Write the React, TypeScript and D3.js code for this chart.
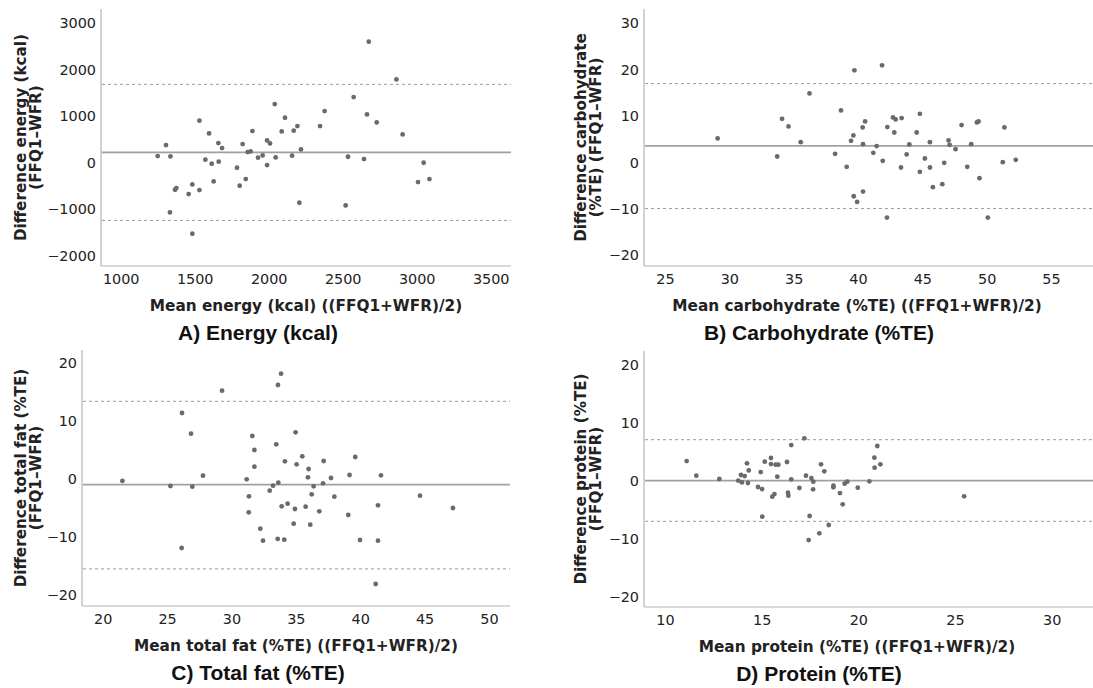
import React, { useRef, useEffect } from 'react';
import * as d3 from 'd3';

// A) energy (kcal)
const energyMean = [1250, 1306, 1336, 1333, 1367, 1376, 1459, 1484, 1484, 1532, 1532, 1572, 1597, 1615, 1628, 1660, 1662, 1685, 1786, 1804, 1824, 1845, 1858, 1878, 1890, 1928, 1959, 1989, 1989, 2009, 2041, 2047, 2088, 2110, 2158, 2169, 2194, 2207, 2218, 2347, 2378, 2520, 2536, 2574, 2644, 2664, 2676, 2730, 2863, 2905, 3009, 3047, 3086];
const energyDiff = [143, 380, 136, -1069, -581, -545, -674, -466, -1528, 904, -588, 65, 631, -22, -402, 423, 22, 316, -108, -495, 402, -352, 230, 244, 681, 108, 158, 481, -50, 416, 1263, 115, 674, 968, 151, 689, 789, -861, 287, 789, 1112, -918, 129, 1413, 79, 1040, 2604, 868, 1793, 610, -416, 0, -352];
const energyLines = [222, 1686, -1241];
const energyXTicks = [1000, 1500, 2000, 2500, 3000, 3500];
const energyYTicks = [-2000, -1000, 0, 1000, 2000, 3000];

// B) carbohydrate (%TE)
const carbMean = [29.09, 33.72, 34.1, 34.6, 35.55, 36.23, 38.22, 38.68, 39.12, 39.46, 39.64, 39.72, 39.67, 39.93, 40.36, 40.39, 40.39, 40.55, 41.19, 41.45, 41.87, 41.92, 42.28, 42.25, 42.72, 42.93, 42.82, 43.39, 43.34, 43.78, 43.99, 44.56, 44.81, 44.81, 45.2, 45.59, 45.59, 45.82, 46.55, 46.7, 47.04, 47.12, 47.58, 48.05, 48.49, 48.8, 49.24, 49.37, 49.44, 50.09, 51.25, 51.38, 52.26];
const carbDiff = [5.18, 1.29, 9.42, 7.77, 4.39, 14.89, 1.87, 11.22, -0.94, 4.68, 5.83, 19.86, -7.27, -8.49, 7.55, 3.96, -6.26, 8.85, 2.09, 3.53, 20.94, 0.36, 7.63, -11.87, 9.71, 9.28, 6.47, 9.57, -1.08, 1.73, 3.88, 6.47, 10.5, -2.01, 0.86, 4.39, -1.08, -5.32, -4.68, -0.07, 4.75, 3.81, 2.88, 8.06, -0.94, 3.96, 8.63, 8.85, -3.38, -11.87, 0.07, 7.55, 0.58];
const carbLines = [3.6, 17.0, -9.93];
const carbXTicks = [25, 30, 35, 40, 45, 50, 55];
const carbYTicks = [-20, -10, 0, 10, 20, 30];

// C) total fat (%TE)
const fatMean = [21.53, 25.26, 26.16, 26.13, 26.86, 26.96, 27.79, 29.27, 31.18, 31.36, 31.34, 31.62, 31.78, 31.78, 32.24, 32.45, 32.97, 33.23, 33.48, 33.59, 33.61, 33.64, 33.85, 33.9, 34.1, 34.15, 34.36, 34.83, 34.93, 34.98, 35.06, 35.5, 35.76, 35.94, 35.99, 36.12, 36.23, 36.38, 36.82, 37.11, 37.16, 37.73, 37.99, 39.07, 39.17, 39.61, 39.98, 41.2, 41.38, 41.38, 41.61, 44.64, 47.2];
const fatDiff = [-0.34, -1.21, 11.38, -11.9, 7.82, -1.32, 0.57, 15.23, -0.06, -2.99, -5.75, 7.41, 5.0, 2.13, -8.56, -10.63, -2.01, -1.15, 5.98, -10.34, 16.21, -0.63, 18.16, -4.71, -10.46, 3.05, -4.25, -7.7, -5.17, 8.05, 2.53, 3.91, -4.77, 0.29, 1.72, -7.87, -2.64, -1.26, -5.57, -0.75, 3.1, 0.17, -3.05, -6.21, 0.69, 3.79, -10.52, -18.1, -4.54, -10.63, 0.63, -2.87, -5.0];
const fatLines = [-0.98, 13.4, -15.5];
const fatXTicks = [20, 25, 30, 35, 40, 45, 50];
const fatYTicks = [-20, -10, 0, 10, 20];

// D) protein (%TE)
const protMean = [11.12, 11.62, 12.81, 13.79, 13.93, 13.98, 14.12, 14.24, 14.29, 14.33, 14.81, 14.95, 15.02, 15.03, 15.16, 15.48, 15.48, 15.55, 15.66, 15.72, 15.86, 15.81, 16.31, 16.36, 16.38, 16.53, 16.53, 16.95, 17.21, 17.29, 17.48, 17.43, 17.57, 17.66, 17.67, 17.98, 18.07, 18.24, 18.47, 18.71, 18.71, 19.05, 19.19, 19.29, 19.43, 19.97, 20.57, 20.83, 20.84, 20.98, 21.14, 25.47];
const protDiff = [3.39, 0.86, 0.29, 0, 0.98, -0.29, 0.8, 2.99, -0.4, 1.78, -1.09, 1.49, -1.44, -6.21, 3.28, 3.91, 2.87, -2.76, -2.3, 2.76, 2.76, 0.69, 3.22, -2.07, -2.59, 6.15, 0.23, -1.26, 7.3, 0.86, -6.09, -10.23, 0.46, -1.49, -0.17, -9.08, 2.82, 1.61, -7.64, -0.86, -1.15, -2.13, -4.08, -0.52, -0.17, -1.21, -0.11, 3.97, 2.24, 5.98, 2.82, -2.7];
const protLines = [0, 7.07, -7.0];
const protXTicks = [10, 15, 20, 25, 30];
const protYTicks = [-20, -10, 0, 10, 20];

const panels = [
  {
    xs: energyMean, ys: energyDiff, lines: energyLines, xTicks: energyXTicks, yTicks: energyYTicks,
    left: 101, right: 511, top: 9, bottom: 266,
    xPx: [120.7, 490.7], yPx: [255.7, 23.3],
    yTitle: ['Difference energy (kcal)', '(FFQ1–WFR)'], yTitleX: [21, 36],
    xTitle: 'Mean energy (kcal) ((FFQ1+WFR)/2)', xTitleX: 306,
    title: 'A) Energy (kcal)', titleX: 258,
  },
  {
    xs: carbMean, ys: carbDiff, lines: carbLines, xTicks: carbXTicks, yTicks: carbYTicks,
    left: 644, right: 1093, top: 9, bottom: 266,
    xPx: [665, 1051], yPx: [255.3, 23.3],
    yTitle: ['Difference carbohydrate', '(%TE) (FFQ1–WFR)'], yTitleX: [581, 596],
    xTitle: 'Mean carbohydrate (%TE) ((FFQ1+WFR)/2)', xTitleX: 857,
    title: 'B) Carbohydrate (%TE)', titleX: 819,
  },
  {
    xs: fatMean, ys: fatDiff, lines: fatLines, xTicks: fatXTicks, yTicks: fatYTicks,
    left: 82, right: 510, top: 350, bottom: 606,
    xPx: [102.7, 489], yPx: [595, 363],
    yTitle: ['Difference total fat (%TE)', '(FFQ1–WFR)'], yTitleX: [21, 36],
    xTitle: 'Mean total fat (%TE) ((FFQ1+WFR)/2)', xTitleX: 296,
    title: 'C) Total fat (%TE)', titleX: 258,
  },
  {
    xs: protMean, ys: protDiff, lines: protLines, xTicks: protXTicks, yTicks: protYTicks,
    left: 644, right: 1093, top: 351, bottom: 607,
    xPx: [665, 1051.7], yPx: [596.7, 364.7],
    yTitle: ['Difference protein (%TE)', '(FFQ1–WFR)'], yTitleX: [581, 596],
    xTitle: 'Mean protein (%TE) ((FFQ1+WFR)/2)', xTitleX: 857,
    title: 'D) Protein (%TE)', titleX: 819,
  },
];

const width = 1093;
const height = 688;
const tickFont = '"DejaVu Sans", sans-serif';
const titleFont = '"Liberation Sans", Arial, sans-serif';

function App() {
  const canvas = useRef<SVGSVGElement>(null);

  useEffect(() => {
    const svg = d3.select(canvas.current);
    svg.selectAll('*').remove();

    panels.forEach((p) => {
      const xt = p.xTicks, yt = p.yTicks;
      const x = d3.scaleLinear().domain([xt[0], xt[xt.length - 1]]).range(p.xPx);
      const y = d3.scaleLinear().domain([yt[0], yt[yt.length - 1]]).range(p.yPx);
      const g = svg.append('g');

      // axis lines
      g.append('line').attr('x1', p.left).attr('x2', p.left).attr('y1', p.top).attr('y2', p.bottom)
        .attr('stroke', '#b4b4b4').attr('stroke-width', 1.2);
      g.append('line').attr('x1', p.left).attr('x2', p.right).attr('y1', p.bottom).attr('y2', p.bottom)
        .attr('stroke', '#b4b4b4').attr('stroke-width', 1.2);

      const xAxis = g.append('g').attr('transform', `translate(0, ${p.bottom})`)
        .call(d3.axisBottom(x).tickValues(xt).tickSize(0).tickPadding(8).tickFormat(d3.format('d')));
      const yAxis = g.append('g').attr('transform', `translate(${p.left}, 0)`)
        .call(d3.axisLeft(y).tickValues(yt).tickSize(0).tickPadding(5).tickFormat(d3.format('d')));
      [xAxis, yAxis].forEach((a) => {
        a.select('.domain').remove();
        a.selectAll('text').attr('font-family', tickFont).attr('font-size', 14.4).attr('fill', '#222');
      });

      // mean and limits of agreement
      g.selectAll('.ref')
        .data(p.lines)
        .enter()
        .append('line')
        .attr('x1', p.left + 1)
        .attr('x2', p.right)
        .attr('y1', (d) => y(d))
        .attr('y2', (d) => y(d))
        .attr('stroke', (d, i) => (i === 0 ? '#a0a0a0' : '#9a9a9a'))
        .attr('stroke-width', (d, i) => (i === 0 ? 1.7 : 1))
        .attr('stroke-dasharray', (d, i) => (i === 0 ? null : '3,3'));

      g.selectAll('circle')
        .data(p.xs)
        .enter()
        .append('circle')
        .attr('cx', (d) => x(d))
        .attr('cy', (d, i) => y(p.ys[i]))
        .attr('r', 2.4)
        .attr('fill', '#6a6a6a');

      const cy = (p.top + p.bottom) / 2;
      p.yTitle.forEach((t, i) => {
        g.append('text')
          .attr('transform', `translate(${p.yTitleX[i]}, ${cy}) rotate(-90)`)
          .attr('text-anchor', 'middle')
          .attr('dy', '0.35em')
          .attr('font-family', tickFont)
          .attr('font-weight', 'bold')
          .attr('font-size', 15.2)
          .attr('fill', '#222')
          .text(t);
      });

      g.append('text')
        .attr('x', p.xTitleX)
        .attr('y', p.bottom + 40)
        .attr('dy', '0.35em')
        .attr('text-anchor', 'middle')
        .attr('font-family', tickFont)
        .attr('font-weight', 'bold')
        .attr('font-size', 15.3)
        .attr('fill', '#222')
        .text(p.xTitle);

      g.append('text')
        .attr('x', p.titleX)
        .attr('y', p.bottom + 67)
        .attr('dy', '0.35em')
        .attr('text-anchor', 'middle')
        .attr('font-family', titleFont)
        .attr('font-weight', 'bold')
        .attr('font-size', 21)
        .attr('fill', '#111')
        .text(p.title);
    });
  });

  return (
    <svg
      ref={canvas}
      width={width}
      height={height}
      style={{ position: 'absolute', left: 0, top: 0, background: '#fff' }}
    />
  );
}

export default App;
